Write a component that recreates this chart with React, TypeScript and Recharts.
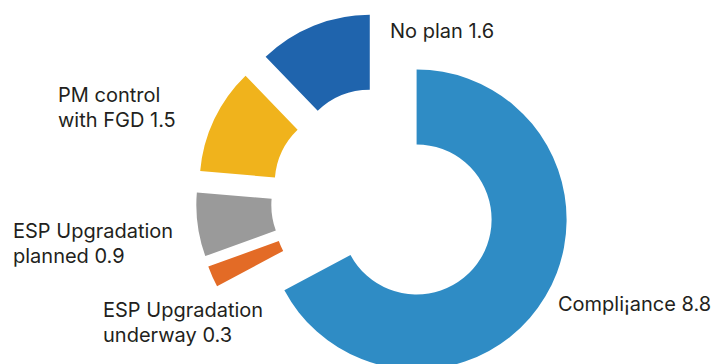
import { PieChart, Pie, Cell } from 'recharts';

const categories = ['Compli¡ance', 'ESP Upgradation underway', 'ESP Upgradation planned', 'PM control with FGD', 'No plan'];
const values = [8.8, 0.3, 0.9, 1.5, 1.6];
const labelLines = [
  ['Compli¡ance 8.8'],
  ['ESP Upgradation', 'underway 0.3'],
  ['ESP Upgradation', 'planned 0.9'],
  ['PM control', 'with FGD 1.5'],
  ['No plan 1.6'],
];

const colors = ['#2f8cc5', '#e36b26', '#9a9a9a', '#f0b31c', '#1f64ad'];

// layout
const W = 718;
const H = 364;
const CX = 384;
const CY = 200;
const EXPLODE = 38;
const INNER = 75;
const OUTER = 150;
const LINE_H = 25;
const labelPos = [
  { x: 558, y: 311 },
  { x: 103, y: 317 },
  { x: 13, y: 238 },
  { x: 58, y: 102 },
  { x: 390, y: 38 },
];

const data = categories.map((name, i) => ({ name, value: values[i] }));
const total = values.reduce((a, b) => a + b, 0);

// each slice is pushed out along its own middle angle
const centers = values.map((v, i) => {
  const before = values.slice(0, i).reduce((a, b) => a + b, 0);
  const mid = ((before + v / 2) / total) * 2 * Math.PI; // clockwise from top
  return { x: CX + EXPLODE * Math.sin(mid), y: CY - EXPLODE * Math.cos(mid) };
});

const renderLabel = ({ index }: any) => (
  <g key={index}>
    {labelLines[index].map((line, j) => (
      <text
        key={j}
        x={labelPos[index].x}
        y={labelPos[index].y + j * LINE_H}
        fill="#231f20"
        fontSize={20}
        fontFamily="Inter, sans-serif"
      >
        {line}
      </text>
    ))}
  </g>
);

export default function App() {
  return (
    <div style={{ position: 'absolute', left: 0, top: 0, width: W, height: H, background: '#fff' }}>
      <PieChart width={W} height={H} margin={{ top: 0, right: 0, bottom: 0, left: 0 }}>
        {centers.map((c, k) => (
          <Pie
            key={k}
            data={data}
            dataKey="value"
            nameKey="name"
            cx={c.x}
            cy={c.y}
            innerRadius={INNER}
            outerRadius={OUTER}
            startAngle={90}
            endAngle={-270}
            stroke="none"
            label={k === 0 ? renderLabel : false}
            labelLine={false}
            isAnimationActive={false}
          >
            {data.map((d, i) => (
              <Cell key={d.name} fill={i === k ? colors[i] : 'none'} />
            ))}
          </Pie>
        ))}
      </PieChart>
    </div>
  );
}
